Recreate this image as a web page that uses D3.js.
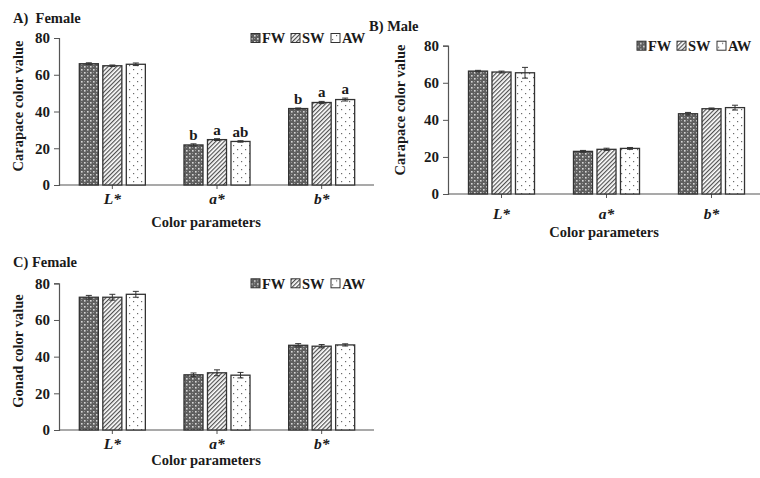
<!DOCTYPE html>
<html>
<head>
<meta charset="utf-8">
<script src="https://cdn.jsdelivr.net/npm/d3@7/dist/d3.min.js"></script>
<style>
  html, body { margin: 0; padding: 0; background: #fff; }
  svg { display: block; }
  svg text { font-family: "Liberation Serif", "Times New Roman", serif !important; font-weight: bold; fill: #1a1a1a; }
</style>
</head>
<body>
<svg id="chart" width="760" height="478"></svg>
<script>
// Colour parameters and water treatments
const categories = ["L*", "a*", "b*"];
const treatments = ["FW", "SW", "AW"];
const yTicks = [0, 20, 40, 60, 80];

// A) Female carapace: means per treatment over L*, a*, b*
const femaleCarapaceFW = [66.0, 21.8, 41.6];
const femaleCarapaceSW = [64.9, 24.7, 44.9];
const femaleCarapaceAW = [65.7, 23.7, 46.5];
const femaleCarapaceErrFW = [0.5, 0.6, 0.3];
const femaleCarapaceErrSW = [0.4, 0.5, 0.6];
const femaleCarapaceErrAW = [0.7, 0.4, 0.8];
const femaleCarapaceLetters = [["", "", ""], ["b", "a", "ab"], ["b", "a", "a"]];

// B) Male carapace
const maleCarapaceFW = [66.3, 23.0, 43.3];
const maleCarapaceSW = [65.8, 24.1, 46.0];
const maleCarapaceAW = [65.4, 24.6, 46.6];
const maleCarapaceErrFW = [0.4, 0.5, 0.7];
const maleCarapaceErrSW = [0.5, 0.6, 0.4];
const maleCarapaceErrAW = [2.9, 0.5, 1.3];

// C) Female gonad
const femaleGonadFW = [72.4, 30.1, 46.2];
const femaleGonadSW = [72.4, 31.2, 45.7];
const femaleGonadAW = [74.0, 29.9, 46.4];
const femaleGonadErrFW = [1.0, 1.0, 0.9];
const femaleGonadErrSW = [1.6, 1.6, 0.9];
const femaleGonadErrAW = [1.6, 1.5, 0.6];

const svg = d3.select("#chart");
const defs = svg.append("defs");
const SERIF = "'Liberation Serif', 'Times New Roman', serif";

// Fill patterns for the three treatments
const pFW = defs.append("pattern").attr("id", "pat-FW")
  .attr("patternUnits", "userSpaceOnUse").attr("width", 6).attr("height", 6);
pFW.append("rect").attr("width", 6).attr("height", 6).attr("fill", "#5f5f5f");
pFW.append("rect").attr("x", 0).attr("y", 0).attr("width", 1.6).attr("height", 1.6).attr("fill", "#d8d8d8");
pFW.append("rect").attr("x", 3).attr("y", 3).attr("width", 1.6).attr("height", 1.6).attr("fill", "#d8d8d8");
pFW.append("rect").attr("x", 3).attr("y", 0).attr("width", 1).attr("height", 1).attr("fill", "#9a9a9a");
pFW.append("rect").attr("x", 0).attr("y", 3).attr("width", 1).attr("height", 1).attr("fill", "#9a9a9a");

const pSW = defs.append("pattern").attr("id", "pat-SW")
  .attr("patternUnits", "userSpaceOnUse").attr("width", 3).attr("height", 3)
  .attr("patternTransform", "rotate(45)");
pSW.append("rect").attr("width", 3).attr("height", 3).attr("fill", "#ffffff");
pSW.append("rect").attr("x", 0).attr("y", 0).attr("width", 1.2).attr("height", 3).attr("fill", "#505050");

const pAW = defs.append("pattern").attr("id", "pat-AW")
  .attr("patternUnits", "userSpaceOnUse").attr("width", 8).attr("height", 8);
pAW.append("rect").attr("width", 8).attr("height", 8).attr("fill", "#ffffff");
pAW.append("rect").attr("x", 1).attr("y", 1).attr("width", 1.2).attr("height", 1.2).attr("fill", "#6a6a6a");
pAW.append("rect").attr("x", 5).attr("y", 5).attr("width", 1.2).attr("height", 1.2).attr("fill", "#6a6a6a");

function drawPanel(cfg) {
  const g = svg.append("g");
  const series = [cfg.fw, cfg.sw, cfg.aw];
  const errs = [cfg.efw, cfg.esw, cfg.eaw];

  const y = d3.scaleLinear().domain([0, 80]).range([cfg.bottom, cfg.top]);
  const x0 = d3.scaleBand().domain(categories).range([cfg.left + 1, cfg.right]);
  const x1 = d3.scaleBand().domain(treatments)
    .range([-35.25, 35.25]).paddingInner(0.19).paddingOuter(0.095);

  // y axis
  const yAxis = g.append("g").attr("transform", `translate(${cfg.left},0)`)
    .call(d3.axisLeft(y).tickValues(yTicks).tickSize(5).tickPadding(4));
  yAxis.attr("font-family", SERIF).attr("font-size", 15);
  yAxis.select(".domain").attr("stroke", "#555").attr("stroke-width", 1.2);
  yAxis.selectAll(".tick line").attr("stroke", "#555");
  yAxis.selectAll(".tick text").attr("font-size", 15).attr("font-family", SERIF)
    .attr("font-weight", "bold").attr("fill", "#1a1a1a");

  // x axis
  const xAxis = g.append("g").attr("transform", `translate(0,${cfg.bottom})`)
    .call(d3.axisBottom(x0).tickSize(4).tickSizeOuter(0).tickPadding(cfg.xLabelPad));
  xAxis.attr("font-family", SERIF).attr("font-size", 15);
  xAxis.select(".domain").attr("stroke", "#555").attr("stroke-width", 1.2)
    .attr("d", `M${cfg.left},0H${cfg.right}`);
  xAxis.selectAll(".tick line").attr("stroke", "#555");
  xAxis.selectAll(".tick text").attr("font-size", 15.5).attr("font-family", SERIF)
    .attr("font-weight", "bold").attr("font-style", "italic").attr("fill", "#1a1a1a");

  // bars with error bars and significance letters
  categories.forEach((c, ci) => {
    const cx = x0(c) + x0.bandwidth() / 2;
    treatments.forEach((t, ti) => {
      const v = series[ti][ci];
      const e = errs[ti][ci];
      const bx = cx + x1(t);
      g.append("rect")
        .attr("x", bx).attr("y", y(v))
        .attr("width", x1.bandwidth()).attr("height", y(0) - y(v))
        .attr("fill", `url(#pat-${t})`)
        .attr("stroke", "#333").attr("stroke-width", 1.3);
      const mx = bx + x1.bandwidth() / 2;
      const eg = g.append("g").attr("stroke", "#333").attr("stroke-width", 1);
      eg.append("line").attr("x1", mx).attr("x2", mx).attr("y1", y(v + e)).attr("y2", y(v - e));
      eg.append("line").attr("x1", mx - 3).attr("x2", mx + 3).attr("y1", y(v + e)).attr("y2", y(v + e));
      eg.append("line").attr("x1", mx - 3).attr("x2", mx + 3).attr("y1", y(v - e)).attr("y2", y(v - e));
      if (cfg.letters && cfg.letters[ci][ti]) {
        g.append("text").attr("x", mx).attr("y", y(v + e) - 4)
          .attr("text-anchor", "middle").attr("font-size", 15)
          .text(cfg.letters[ci][ti]);
      }
    });
  });

  // titles
  g.append("text").attr("x", cfg.titleX).attr("y", cfg.titleY)
    .attr("font-size", 14.5).style("white-space", "pre").text(cfg.title);
  g.append("text")
    .attr("transform", `translate(${cfg.yTitleX},${cfg.yTitleY}) rotate(-90)`)
    .attr("text-anchor", "middle").attr("font-size", 14.5).text(cfg.yTitle);
  g.append("text").attr("x", cfg.xTitleX).attr("y", cfg.xTitleY)
    .attr("text-anchor", "middle").attr("font-size", 14.5).text("Color parameters");

  // legend
  const lg = g.append("g").attr("transform", `translate(${cfg.legendX},${cfg.legendY})`);
  const legendOffsets = [0, 40, 80];
  treatments.forEach((t, i) => {
    const item = lg.append("g").attr("transform", `translate(${legendOffsets[i]},0)`);
    item.append("rect").attr("x", 0).attr("y", -4.5).attr("width", 9).attr("height", 9)
      .attr("fill", `url(#pat-${t})`).attr("stroke", "#333").attr("stroke-width", 1);
    item.append("text").attr("x", 11).attr("y", 5.2).attr("font-size", 14.5).text(t);
  });
}

drawPanel({
  title: "A)  Female", titleX: 13, titleY: 23,
  yTitle: "Carapace color value", yTitleX: 23, yTitleY: 106,
  xTitleX: 206, xTitleY: 227, xLabelPad: 4,
  left: 59, right: 374, top: 38, bottom: 185,
  legendX: 251, legendY: 38,
  fw: femaleCarapaceFW, sw: femaleCarapaceSW, aw: femaleCarapaceAW,
  efw: femaleCarapaceErrFW, esw: femaleCarapaceErrSW, eaw: femaleCarapaceErrAW,
  letters: femaleCarapaceLetters
});

drawPanel({
  title: "B) Male", titleX: 369, titleY: 31,
  yTitle: "Carapace color value", yTitleX: 405, yTitleY: 110,
  xTitleX: 604, xTitleY: 237, xLabelPad: 10,
  left: 448, right: 764, top: 45.7, bottom: 194,
  legendX: 637, legendY: 45.7,
  fw: maleCarapaceFW, sw: maleCarapaceSW, aw: maleCarapaceAW,
  efw: maleCarapaceErrFW, esw: maleCarapaceErrSW, eaw: maleCarapaceErrAW
});

drawPanel({
  title: "C) Female", titleX: 13, titleY: 267,
  yTitle: "Gonad color value", yTitleX: 23, yTitleY: 351,
  xTitleX: 206, xTitleY: 465, xLabelPad: 4,
  left: 59, right: 374, top: 283.3, bottom: 430,
  legendX: 251, legendY: 283.3,
  fw: femaleGonadFW, sw: femaleGonadSW, aw: femaleGonadAW,
  efw: femaleGonadErrFW, esw: femaleGonadErrSW, eaw: femaleGonadErrAW
});
</script>
</body>
</html>
